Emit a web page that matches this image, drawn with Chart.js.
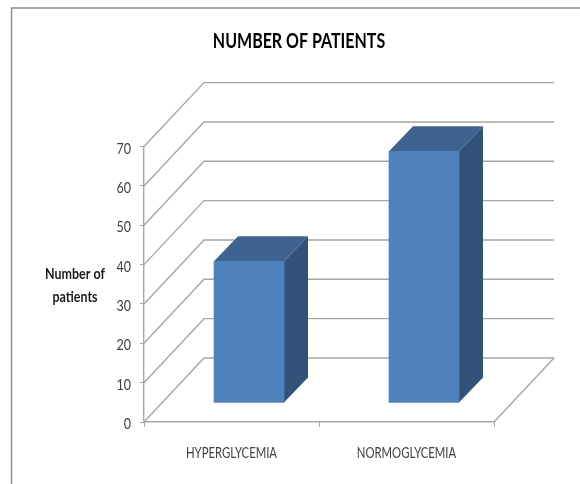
<!DOCTYPE html>
<html>
<head>
<meta charset="utf-8">
<title>Number of patients</title>
<script src="https://cdn.jsdelivr.net/npm/chart.js@4"></script>
<style>
  html, body { margin: 0; padding: 0; background: #fff; }
  canvas { display: block; }
</style>
</head>
<body>
<canvas id="chart" width="580" height="484"></canvas>
<script>
// Data
const categories = ["HYPERGLYCEMIA", "NORMOGLYCEMIA"];
const patients = [36, 64];
const yTicks = [0, 10, 20, 30, 40, 50, 60, 70];
const chartTitle = "NUMBER OF PATIENTS";
const yLabelLines = ["Number of", "patients"];

// Look of the fake 3D box
const WALL_DX = 60, WALL_DY = 64;      // depth of the whole floor
const BAR_SHIFT_X = 17.5, BAR_SHIFT_Y = 19; // bars stand a bit inside the floor
const BAR_DX = 24, BAR_DY = 25;        // depth of a bar
const GRID = "#a6a6a6";
const FONT = 'Lato, "Liberation Sans", sans-serif';
const TEXT_SQUEEZE = 0.78, TEXT_DROP = 2;

function poly(ctx, pts, fill) {
    ctx.beginPath();
    pts.forEach((p, i) => i ? ctx.lineTo(p[0], p[1]) : ctx.moveTo(p[0], p[1]));
    ctx.closePath();
    ctx.fillStyle = fill;
    ctx.fill();
}

// No narrow font is installed, so squeeze every label around its anchor
function squeezeText(ctx) {
    if (ctx.squeezed) return;
    ctx.squeezed = true;
    const fillText = ctx.fillText;
    ctx.fillText = function (text, x, y) {
        this.save();
        this.translate(x, y + TEXT_DROP);
        this.scale(TEXT_SQUEEZE, 1);
        fillText.call(this, text, 0, 0);
        this.restore();
    };
}

const box3d = {
    id: "box3d",
    beforeDraw(chart) {
        const ctx = chart.ctx;
        squeezeText(ctx);
        ctx.save();
        ctx.strokeStyle = "#8c8c8c";
        ctx.lineWidth = 1.4;
        ctx.beginPath();
        ctx.moveTo(11.5, 484);
        ctx.lineTo(11.5, 8);
        ctx.lineTo(580, 8);
        ctx.stroke();
        ctx.restore();
    },
    beforeDatasetsDraw(chart) {
        const { ctx, chartArea: a, scales: { y } } = chart;
        ctx.save();

        // walls: one diagonal + one back line for each tick
        ctx.strokeStyle = GRID;
        ctx.lineWidth = 1.4;
        yTicks.forEach(t => {
            const py = y.getPixelForValue(t);
            ctx.beginPath();
            ctx.moveTo(a.left, py);
            ctx.lineTo(a.left + WALL_DX, py - WALL_DY);
            ctx.lineTo(a.right + WALL_DX, py - WALL_DY);
            ctx.stroke();
        });
        // floor right edge
        ctx.beginPath();
        ctx.moveTo(a.right, a.bottom);
        ctx.lineTo(a.right + WALL_DX, a.bottom - WALL_DY);
        ctx.stroke();

        // top and side of the bars, the front comes from the library
        chart.getDatasetMeta(0).data.forEach(el => {
            const l = el.x - el.width / 2 + BAR_SHIFT_X;
            const r = el.x + el.width / 2 + BAR_SHIFT_X;
            const top = el.y - BAR_SHIFT_Y;
            const bot = el.base - BAR_SHIFT_Y;
            poly(ctx, [[l, top], [r, top], [r + BAR_DX, top - BAR_DY], [l + BAR_DX, top - BAR_DY]], "#3e6390");
            poly(ctx, [[r, top], [r + BAR_DX, top - BAR_DY], [r + BAR_DX, bot - BAR_DY], [r, bot]], "#325279");
        });
        ctx.restore();

        ctx.save();
        ctx.translate(BAR_SHIFT_X, -BAR_SHIFT_Y);
    },
    afterDatasetsDraw(chart) {
        chart.ctx.restore();
    },
    afterDraw(chart) {
        const ctx = chart.ctx;
        ctx.save();
        ctx.font = "bold 16px " + FONT;
        ctx.fillStyle = "#1a1a1a";
        ctx.textAlign = "center";
        ctx.textBaseline = "middle";
        yLabelLines.forEach((line, i) => ctx.fillText(line, 75, 272 + i * 23));
        ctx.restore();
    }
};

new Chart(document.getElementById("chart"), {
    type: "bar",
    data: {
        labels: categories,
        datasets: [{
            data: patients,
            backgroundColor: "#4f81bd",
            barThickness: 70
        }]
    },
    options: {
        responsive: false,
        animation: false,
        layout: { padding: { left: 104, right: 86, top: 0, bottom: 0 } },
        plugins: {
            legend: { display: false },
            tooltip: { enabled: false },
            title: {
                display: true,
                text: chartTitle,
                color: "#000",
                font: { family: FONT, size: 20.5, weight: "bold" },
                padding: { top: 27, bottom: 95 }
            }
        },
        scales: {
            x: {
                grid: { drawOnChartArea: false, color: GRID, tickLength: 5 },
                border: { color: GRID, width: 1.4 },
                ticks: { color: "#404040", font: { family: FONT, size: 14.5 }, padding: 16, maxRotation: 0 },
                afterFit(s) { s.height = 62; }
            },
            y: {
                min: 0,
                max: 70,
                grid: { drawOnChartArea: false, color: GRID, tickLength: 4 },
                border: { color: GRID, width: 1.4 },
                ticks: { stepSize: 10, color: "#404040", font: { family: FONT, size: 16 }, padding: 9 },
                afterFit(s) { s.width = 40; }
            }
        }
    },
    plugins: [box3d]
});
</script>
</body>
</html>
